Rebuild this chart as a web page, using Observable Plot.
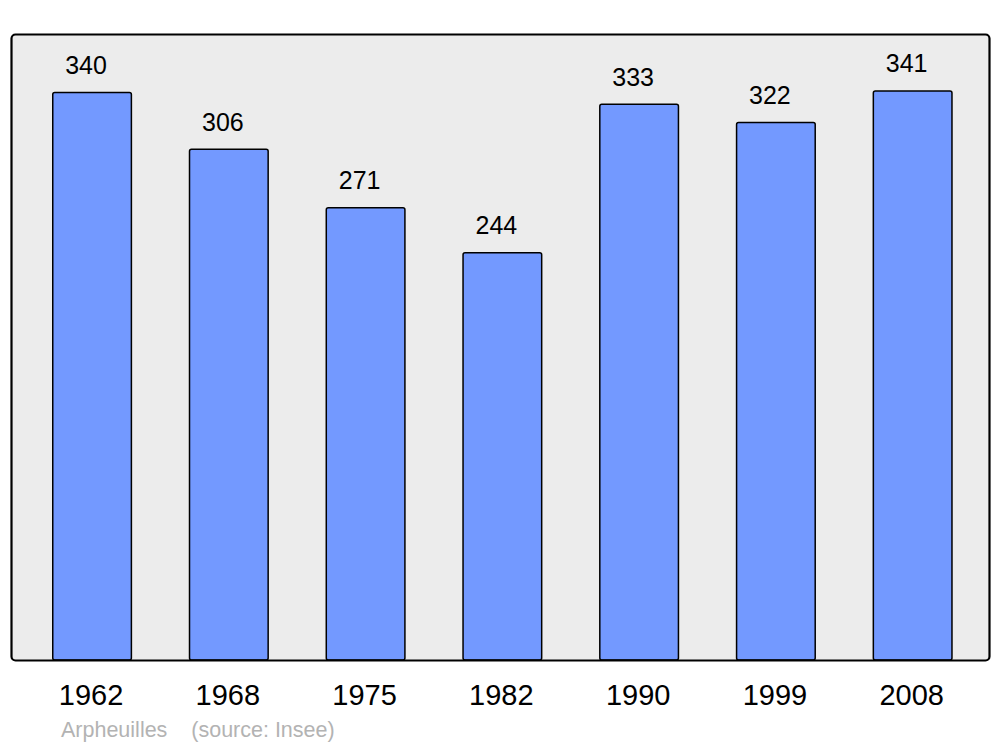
<!DOCTYPE html>
<html>
<head>
<meta charset="utf-8">
<script src="https://cdn.jsdelivr.net/npm/d3@7"></script>
<script src="https://cdn.jsdelivr.net/npm/@observablehq/plot@0.6"></script>
<style>
  html, body { margin: 0; padding: 0; background: #fff; }
  #wrap { position: relative; width: 1000px; height: 747px; }
  #caption {
    position: absolute; left: 61px; top: 717px;
    font-family: "Liberation Sans", Arial, sans-serif;
    font-size: 21.5px; color: #b3b3b3; white-space: pre; line-height: 26px;
  }
</style>
</head>
<body>
<div id="wrap"></div>
<script>
const years = ["1962", "1968", "1975", "1982", "1990", "1999", "2008"];
const population = [340, 306, 271, 244, 333, 322, 341];
const captionText = "Arpheuilles    (source: Insee)";

const data = years.map((y, i) => ({year: y, pop: population[i]}));

const chart = Plot.plot({
  width: 1000,
  height: 715,
  marginTop: 34,
  marginBottom: 55,
  marginLeft: 11,
  marginRight: 11,
  style: {fontFamily: "'Liberation Sans', Arial, sans-serif", background: "transparent"},
  x: {domain: years, paddingInner: 0.425, paddingOuter: 0.288, align: 0.53, round: false},
  y: {domain: [0, 375.1], axis: null},
  marks: [
    Plot.frame({fill: "#ececec", stroke: "none", rx: 4}),
    Plot.barY(data, {x: "year", y: "pop", fill: "#7399ff", stroke: "black", strokeWidth: 1.5, rx: 2}),
    Plot.text(data, {x: "year", y: "pop", text: d => String(d.pop), dy: -19, dx: -6.5, lineAnchor: "bottom", fontSize: 25, fill: "black"}),
    Plot.frame({stroke: "black", strokeWidth: 2.2, rx: 4}),
    Plot.axisX({tickSize: 0, tickPadding: 24, dx: -1.5, fontSize: 29, label: null, color: "black"})
  ]
});
const wrap = document.getElementById("wrap");
wrap.appendChild(chart);
const cap = document.createElement("div");
cap.id = "caption";
cap.textContent = captionText;
wrap.appendChild(cap);
</script>
</body>
</html>
